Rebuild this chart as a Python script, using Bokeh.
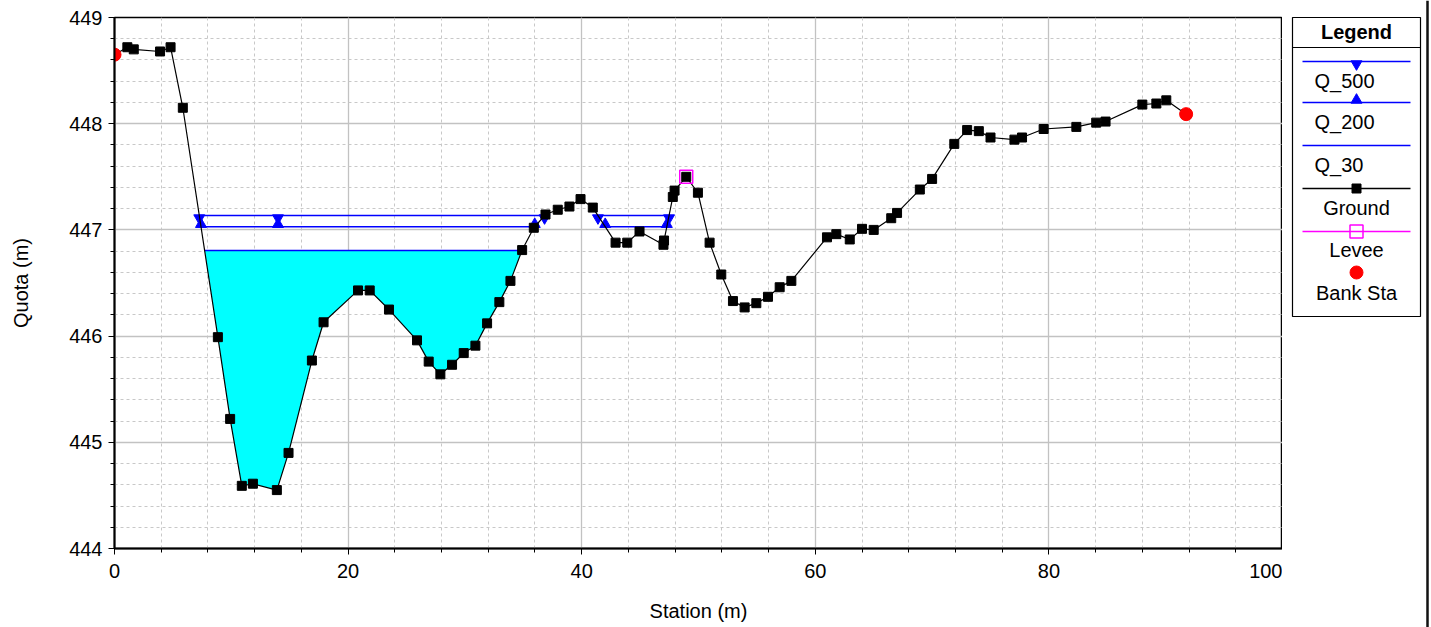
import numpy as np
from bokeh.plotting import figure
from bokeh.models import Range1d, SingleIntervalTicker
from bokeh.layouts import row
from bokeh.embed import file_html
from bokeh.resources import INLINE
from bokeh.core.properties import value

# ---------------- data ----------------
station = [0, 1.1, 1.65, 3.9, 4.8, 5.85, 8.85, 9.9, 10.9, 11.85, 13.9, 14.9, 16.9, 17.9,
           20.85, 21.85, 23.5, 25.9, 26.9, 27.9, 28.9, 29.9, 30.9, 31.9, 32.95, 33.9, 34.9,
           35.9, 36.9, 37.95, 38.95, 39.9, 40.95, 42.9, 43.9, 44.95, 47.0, 47.05, 47.8,
           47.95, 48.95, 49.95, 50.95, 51.95, 52.95, 53.95, 54.95, 55.95, 56.95, 57.95,
           61.0, 61.8, 62.95, 64.0, 65.0, 66.5, 67.0, 68.95, 70.0, 71.9, 73.0, 74.0, 75.0,
           77.05, 77.7, 79.55, 82.35, 84.05, 84.85, 88.0, 89.2, 90.05, 91.75]
elevation = [448.65, 448.72, 448.70, 448.68, 448.72, 448.15, 445.99, 445.22, 444.59, 444.61,
             444.55, 444.90, 445.77, 446.13, 446.43, 446.43, 446.25, 445.96, 445.76, 445.64,
             445.73, 445.84, 445.91, 446.12, 446.32, 446.52, 446.81, 447.02, 447.145, 447.19,
             447.22, 447.29, 447.21, 446.88, 446.88, 446.985, 446.86, 446.90, 447.31, 447.37,
             447.50, 447.35, 446.88, 446.58, 446.33, 446.27, 446.31, 446.37, 446.46, 446.52,
             446.93, 446.96, 446.91, 447.01, 447.00, 447.11, 447.16, 447.38, 447.48, 447.81,
             447.94, 447.93, 447.87, 447.85, 447.87, 447.95, 447.97, 448.01, 448.02, 448.18,
             448.19, 448.22, 448.09]
levee_station = [48.95]
levee_elev = [447.50]
bank_station = [0.0, 91.75]
bank_elev = [448.65, 448.09]
ws_names = ["Q_500", "Q_200", "Q_30"]
ws_elev = [447.135, 447.03, 446.806]
ws_extra_marker_station = [14.0]

FONT = "Liberation Sans"
BLUE = "#0000ff"


def wet_segments(ws, limit):
    st = np.array(station, dtype=float)
    el = np.array(elevation, dtype=float)
    segs = []
    start = None
    for i in range(len(st) - 1):
        if st[i + 1] > limit:
            break
        a, b = el[i] - ws, el[i + 1] - ws
        if a > 0 and b <= 0:
            x = st[i] + a / (a - b) * (st[i + 1] - st[i])
            start = (x, i + 1)
        elif a <= 0 and b > 0 and start is not None:
            x = st[i] + a / (a - b) * (st[i + 1] - st[i])
            segs.append((start[0], x, start[1], i))
            start = None
    return segs


# ---------------- main figure ----------------
p = figure(width=1282, height=627, x_range=Range1d(0, 100), y_range=Range1d(444, 449),
           output_backend="svg", toolbar_location=None, frame_align=False,
           min_border_left=114, min_border_right=0, min_border_top=17, min_border_bottom=79)
p.background_fill_color = "white"
p.border_fill_color = "white"
p.outline_line_color = "black"
p.outline_line_width = 1.5

p.xaxis.ticker = SingleIntervalTicker(interval=20, num_minor_ticks=5)
p.yaxis.ticker = SingleIntervalTicker(interval=1, num_minor_ticks=5)
for g in (p.xgrid, p.ygrid):
    g.grid_line_color = "#c2c2c2"
    g.grid_line_width = 1.3
    g.minor_grid_line_color = "#c8c8c8"
    g.minor_grid_line_dash = "3 3"
    g.minor_grid_line_width = 1

for ax in (p.xaxis, p.yaxis):
    ax.axis_line_width = 2
    ax.axis_line_color = "black"
    ax.major_tick_out = 6
    ax.major_tick_in = 0
    ax.minor_tick_out = 4
    ax.minor_tick_in = 0
    ax.major_tick_line_color = "black"
    ax.minor_tick_line_color = "black"
    ax.major_label_text_font = FONT
    ax.major_label_text_font_size = "20px"
    ax.major_label_text_color = "black"
    ax.axis_label_text_font = FONT
    ax.axis_label_text_font_size = "20px"
    ax.axis_label_text_font_style = "normal"
    ax.axis_label_text_color = "black"

p.xaxis.axis_label = "Station (m)"
p.yaxis.axis_label = "Quota (m)"
p.xaxis.major_label_standoff = 9
p.xaxis.axis_label_standoff = 19
p.yaxis.major_label_standoff = 6
p.yaxis.axis_label_standoff = 34

limit = levee_station[0]
tri_off = 0.023

# Q_30 fill first
for name, ws in zip(ws_names, ws_elev):
    if name != "Q_30":
        continue
    for x0, x1, i0, i1 in wet_segments(ws, limit):
        xs = [x0] + station[i0:i1 + 1] + [x1]
        ys = [ws] + elevation[i0:i1 + 1] + [ws]
        p.patch(xs, ys, fill_color="#00ffff", line_color=None)

# water surface lines and markers
for name, ws in zip(ws_names, ws_elev):
    segs = wet_segments(ws, limit)
    mx = []
    for k, (x0, x1, i0, i1) in enumerate(segs):
        p.line([x0, x1], [ws, ws], line_color=BLUE, line_width=1.6)
        mx += [x0, x1]
        if k == 0:
            mx += ws_extra_marker_station
    if name == "Q_500":
        p.scatter(mx, [ws - tri_off] * len(mx), marker="inverted_triangle", size=11,
                  fill_color=BLUE, line_color=BLUE)
    elif name == "Q_200":
        p.scatter(mx, [ws + tri_off] * len(mx), marker="triangle", size=11,
                  fill_color=BLUE, line_color=BLUE)

# ground
p.line(station, elevation, line_color="black", line_width=1.2)
p.scatter(station, elevation, marker="square", size=9, fill_color="black", line_color="black")

# levee
p.scatter(levee_station, levee_elev, marker="square", size=13, fill_color=None,
          line_color="#ff00ff", line_width=1.5)

# bank stations
p.scatter(bank_station, bank_elev, marker="circle", size=13, fill_color="#ff0000",
          line_color="#ff0000")

# ---------------- legend panel ----------------
X0 = 1282
LW = 149
leg = figure(width=LW, height=627, x_range=Range1d(X0, X0 + LW), y_range=Range1d(627, 0),
             output_backend="svg", toolbar_location=None, min_border=0, frame_align=False,
             x_axis_location=None, y_axis_location=None)
leg.grid.visible = False
leg.outline_line_color = None
leg.background_fill_color = "white"
leg.border_fill_color = "white"

leg.quad(left=[1292], right=[1420], top=[17], bottom=[316], fill_color="white",
         line_color="black", line_width=1.2)
leg.segment(x0=[1292], y0=[47], x1=[1420], y1=[47], line_color="black", line_width=1.2)
leg.text(x=[1356], y=[31], text=["Legend"], text_font=value(FONT), text_font_size="20px",
         text_font_style="bold", text_align="center", text_baseline="middle",
         text_color="black")

entry_labels = ws_names + ["Ground", "Levee", "Bank Sta"]
entry_line_y = [61, 102, 145, 188, 231, 272]
entry_text_y = [80, 121, 164, 207, 249, 292]
entry_colors = [BLUE, BLUE, BLUE, "black", "#ff00ff", None]
for lab, ly, ty, col in zip(entry_labels, entry_line_y, entry_text_y, entry_colors):
    if col is not None:
        leg.segment(x0=[1302], y0=[ly], x1=[1410], y1=[ly], line_color=col, line_width=1.3)
    if lab.startswith("Q_"):
        leg.text(x=[1314], y=[ty], text=[lab], text_font=value(FONT), text_font_size="20px",
                 text_align="left", text_baseline="middle", text_color="black")
    else:
        leg.text(x=[1356], y=[ty], text=[lab], text_font=value(FONT), text_font_size="20px",
                 text_align="center", text_baseline="middle", text_color="black")

leg.scatter([1356], [63.5], marker="inverted_triangle", size=11, fill_color=BLUE, line_color=BLUE)
leg.scatter([1356], [99.5], marker="triangle", size=11, fill_color=BLUE, line_color=BLUE)
leg.scatter([1356], [188], marker="square", size=9, fill_color="black", line_color="black")
leg.scatter([1356], [231], marker="square", size=13, fill_color=None, line_color="#ff00ff",
            line_width=1.5)
leg.scatter([1356], [272], marker="circle", size=13, fill_color="#ff0000", line_color="#ff0000")

# window edge line
leg.segment(x0=[1427], y0=[0], x1=[1427], y1=[627], line_color="#111111", line_width=2.5)

layout = row(p, leg, spacing=0, width=X0 + LW, height=627)
open("out.html", "w").write(file_html(layout, INLINE))
